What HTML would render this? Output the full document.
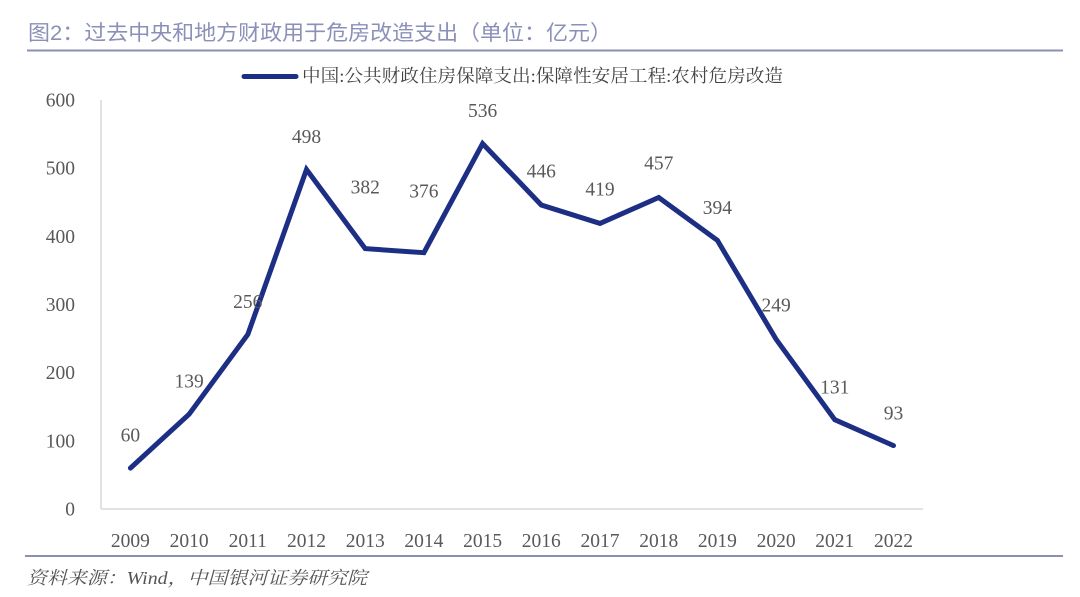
<!DOCTYPE html>
<html>
<head>
<meta charset="utf-8">
<style>
html,body{margin:0;padding:0;background:#fff;}
svg{display:block;}
</style>
</head>
<body>
<svg width="1080" height="597" viewBox="0 0 1080 597" xmlns="http://www.w3.org/2000/svg">
<rect width="1080" height="597" fill="#ffffff"/>
<!-- Title -->
<text x="28" y="40" font-family="'Liberation Sans','Noto Sans CJK SC',sans-serif" font-size="21" fill="#8a90b8" textLength="584" lengthAdjust="spacingAndGlyphs">图2：过去中央和地方财政用于危房改造支出（单位：亿元）</text>
<line x1="27" y1="50.5" x2="1063" y2="50.5" stroke="#8890b4" stroke-width="2"/>

<!-- Legend -->
<line x1="244" y1="76.5" x2="296" y2="76.5" stroke="#1c2f85" stroke-width="5" stroke-linecap="round"/>
<text x="302" y="82" font-family="'Liberation Serif','Noto Serif CJK SC',serif" font-size="18" fill="#444444" textLength="481" lengthAdjust="spacingAndGlyphs">中国:公共财政住房保障支出:保障性安居工程:农村危房改造</text>

<!-- Axes -->
<line x1="101" y1="100" x2="101" y2="509" stroke="#d9d9d9" stroke-width="1.5"/>
<line x1="101" y1="509" x2="923" y2="509" stroke="#d9d9d9" stroke-width="1.5"/>

<!-- Y tick labels -->
<g font-family="'Liberation Serif',serif" font-size="19.5" fill="#595959" text-anchor="end">
<text x="75" y="106.5">600</text>
<text x="75" y="174.7">500</text>
<text x="75" y="242.8">400</text>
<text x="75" y="311">300</text>
<text x="75" y="379.2">200</text>
<text x="75" y="447.3">100</text>
<text x="75" y="515.5">0</text>
</g>

<!-- X tick labels -->
<g font-family="'Liberation Serif',serif" font-size="19.5" fill="#595959" text-anchor="middle">
<text x="130.4" y="547">2009</text>
<text x="189.1" y="547">2010</text>
<text x="247.8" y="547">2011</text>
<text x="306.5" y="547">2012</text>
<text x="365.2" y="547">2013</text>
<text x="423.9" y="547">2014</text>
<text x="482.6" y="547">2015</text>
<text x="541.3" y="547">2016</text>
<text x="600.0" y="547">2017</text>
<text x="658.7" y="547">2018</text>
<text x="717.4" y="547">2019</text>
<text x="776.1" y="547">2020</text>
<text x="834.8" y="547">2021</text>
<text x="893.5" y="547">2022</text>
</g>

<!-- Series -->
<polyline fill="none" stroke="#1c2f85" stroke-width="5" stroke-linejoin="miter" stroke-linecap="round"
points="130.4,468.1 189.1,414.2 247.8,334.5 306.5,169.5 365.2,248.6 423.9,252.7 482.6,143.6 541.3,205.0 600.0,223.4 658.7,197.5 717.4,240.4 776.1,339.3 834.8,419.7 893.5,445.6"/>

<!-- Data labels -->
<g font-family="'Liberation Serif',serif" font-size="19.5" fill="#595959" text-anchor="middle">
<text x="130.4" y="441.5">60</text>
<text x="189.1" y="387.5">139</text>
<text x="247.8" y="308">256</text>
<text x="306.5" y="143">498</text>
<text x="365.2" y="193.5">382</text>
<text x="423.9" y="197.5">376</text>
<text x="482.6" y="117">536</text>
<text x="541.3" y="177.5">446</text>
<text x="600.0" y="195.5">419</text>
<text x="658.7" y="169.5">457</text>
<text x="717.4" y="214">394</text>
<text x="776.1" y="311.5">249</text>
<text x="834.8" y="393.5">131</text>
<text x="893.5" y="419.5">93</text>
</g>

<!-- Footer -->
<line x1="25" y1="556" x2="1063" y2="556" stroke="#8890b4" stroke-width="2"/>
<text x="27" y="584" font-family="'Liberation Serif','Noto Serif CJK SC',serif" font-size="18" font-style="italic" fill="#555555" textLength="340" lengthAdjust="spacingAndGlyphs">资料来源：Wind，中国银河证券研究院</text>
</svg>
</body>
</html>
